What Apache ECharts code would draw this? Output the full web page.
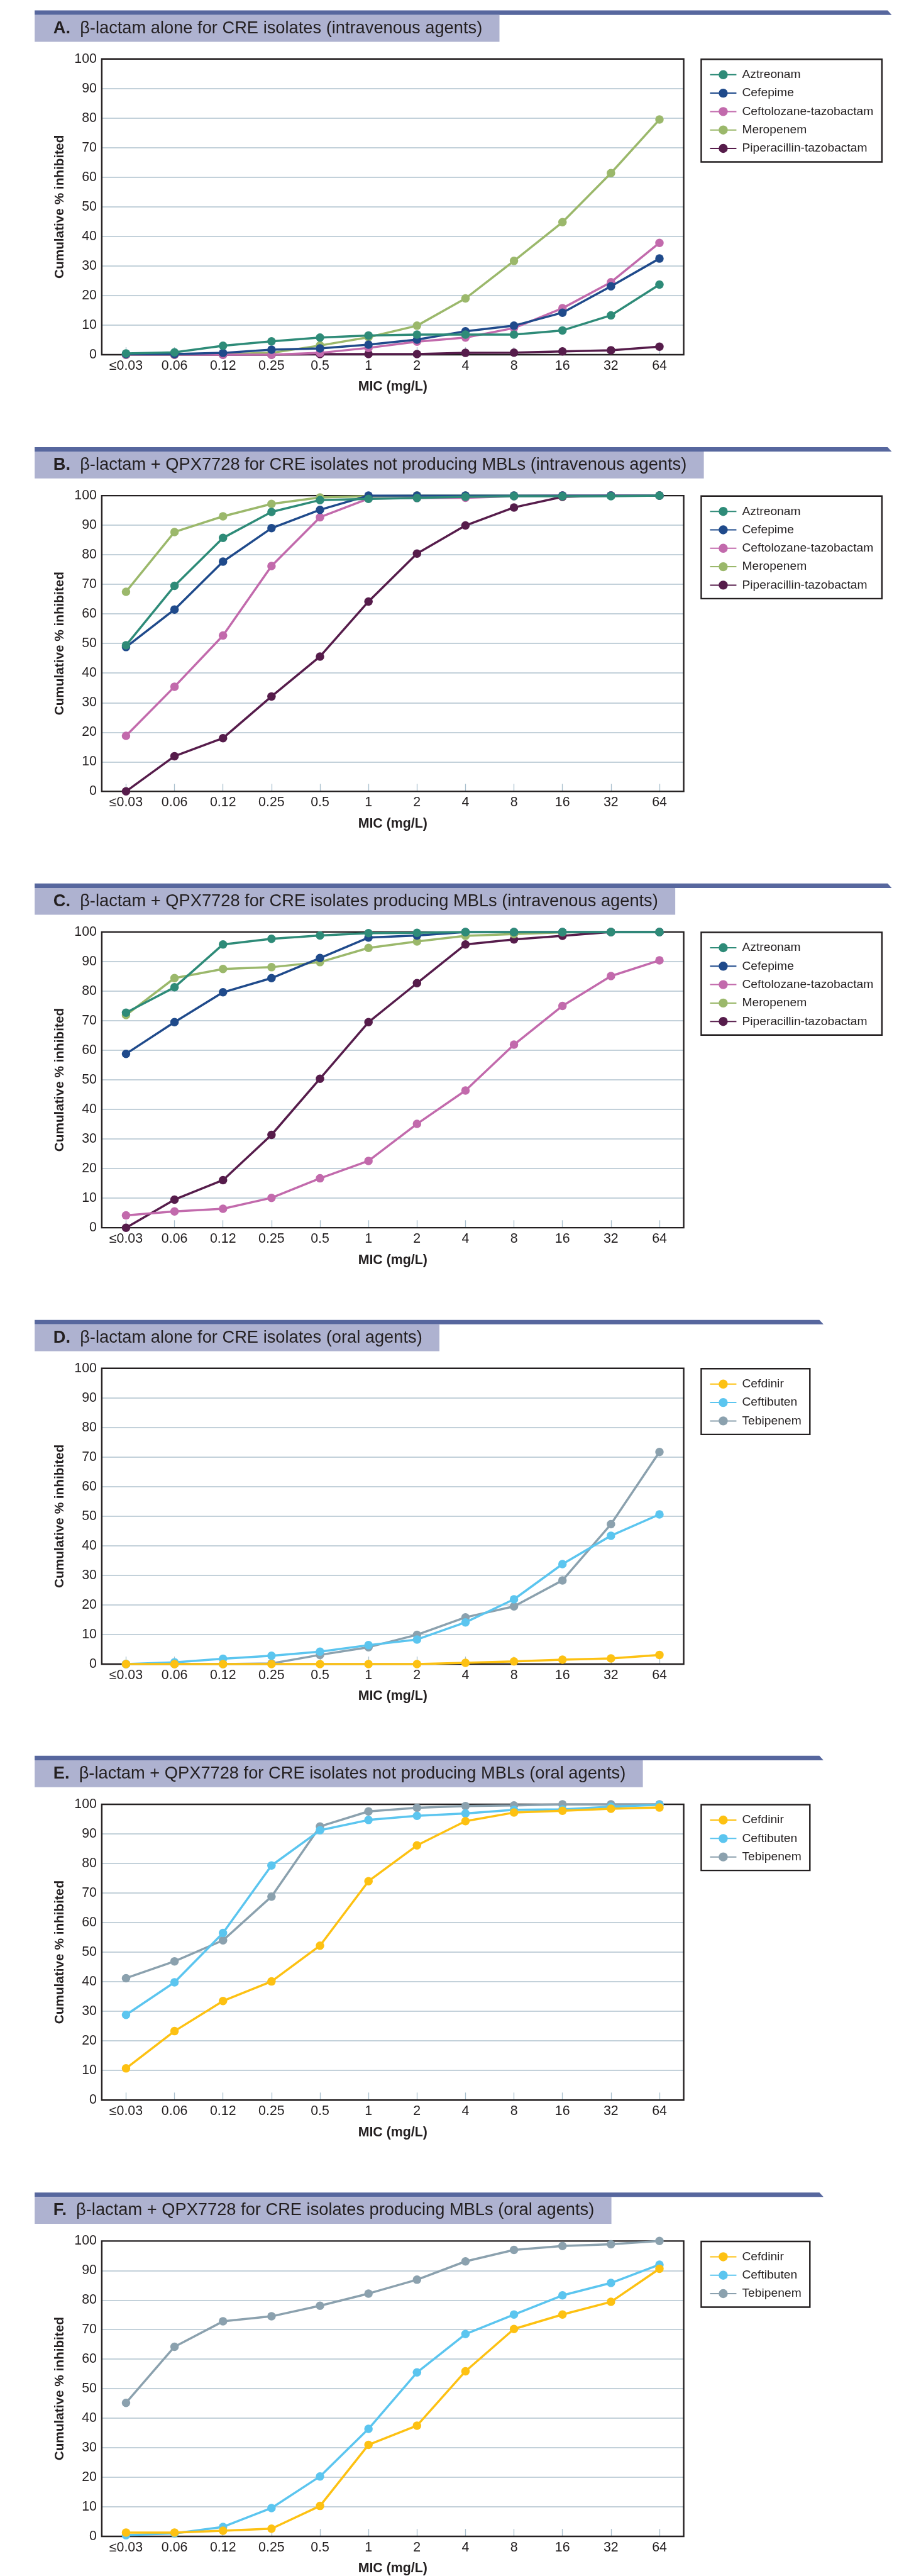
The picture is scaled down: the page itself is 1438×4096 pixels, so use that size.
<!DOCTYPE html>
<html>
<head>
<meta charset="utf-8">
<script src="https://cdn.jsdelivr.net/npm/echarts@6/dist/echarts.min.js"></script>
<style>
html,body{margin:0;padding:0;background:#fff;}
#c{width:1438px;height:4096px;}
</style>
</head>
<body>
<div id="c"></div>
<script>
// ---------- data ----------
const categories = ['≤0.03','0.06','0.12','0.25','0.5','1','2','4','8','16','32','64'];

const panelLetters = ['A.','B.','C.','D.','E.','F.'];
const panelTitles = [
  'β-lactam alone for CRE isolates (intravenous agents)',
  'β-lactam + QPX7728 for CRE isolates not producing MBLs (intravenous agents)',
  'β-lactam + QPX7728 for CRE isolates producing MBLs (intravenous agents)',
  'β-lactam alone for CRE isolates (oral agents)',
  'β-lactam + QPX7728 for CRE isolates not producing MBLs (oral agents)',
  'β-lactam + QPX7728 for CRE isolates producing MBLs (oral agents)'
];
const ivAgents = ['Aztreonam','Cefepime','Ceftolozane-tazobactam','Meropenem','Piperacillin-tazobactam'];
const oralAgents = ['Cefdinir','Ceftibuten','Tebipenem'];
const yAxisName = 'Cumulative % inhibited';
const xAxisName = 'MIC (mg/L)';

// Panel A
const A_aztreonam   = [0.4, 0.8, 3.0, 4.5, 5.8, 6.5, 6.8, 6.8, 6.8, 8.2, 13.3, 23.7];
const A_cefepime    = [0.2, 0.2, 0.6, 1.7, 2.1, 3.4, 5.1, 7.9, 9.8, 14.2, 23.1, 32.5];
const A_ceftolozane = [0, 0, 0, 0, 0.6, 2.3, 4.4, 5.8, 9.0, 15.7, 24.5, 37.8];
const A_meropenem   = [0, 0, 0.2, 0.6, 3.1, 5.9, 9.8, 19.0, 31.7, 44.8, 61.4, 79.5];
const A_piptaz      = [0, 0, 0, 0, 0.2, 0.2, 0.2, 0.6, 0.7, 1.1, 1.5, 2.7];
// Panel B
const B_aztreonam   = [49.4, 69.5, 85.7, 94.5, 98.5, 98.9, 99.2, 99.6, 99.8, 99.8, 99.8, 100];
const B_cefepime    = [48.8, 61.5, 77.7, 89.0, 95.2, 100, 100, 100, 100, 100, 100, 100];
const B_ceftolozane = [18.8, 35.4, 52.7, 76.2, 92.7, 99.0, 99.2, 99.3, 99.8, 100, 100, 100];
const B_meropenem   = [67.5, 87.7, 93.0, 97.2, 99.4, 99.8, 100, 100, 100, 100, 100, 100];
const B_piptaz      = [0, 11.9, 18.0, 32.1, 45.6, 64.2, 80.4, 89.9, 96.0, 99.6, 100, 100];
// Panel C
const C_aztreonam   = [72.7, 81.3, 95.8, 97.7, 98.8, 99.6, 99.7, 100, 100, 100, 100, 100];
const C_cefepime    = [58.8, 69.5, 79.6, 84.4, 91.2, 98.1, 98.8, 100, 100, 100, 100, 100];
const C_ceftolozane = [4.2, 5.5, 6.4, 10.1, 16.7, 22.6, 35.1, 46.4, 61.9, 75.0, 85.1, 90.4];
const C_meropenem   = [71.9, 84.4, 87.5, 88.1, 89.8, 94.6, 96.8, 98.7, 99.3, 99.9, 100, 100];
const C_piptaz      = [0, 9.5, 16.1, 31.4, 50.4, 69.5, 82.7, 95.8, 97.5, 98.7, 100, 100];
// Panel D
const D_cefdinir    = [0, 0, 0, 0, 0, 0, 0, 0.4, 0.9, 1.5, 1.9, 3.1];
const D_ceftibuten  = [0, 0.6, 1.8, 2.8, 4.2, 6.4, 8.3, 14.1, 21.9, 33.8, 43.4, 50.6];
const D_tebipenem   = [0, 0, 0, 0.2, 3.1, 5.7, 9.9, 15.8, 19.5, 28.3, 47.3, 71.7];
// Panel E
const E_cefdinir    = [10.7, 23.3, 33.5, 40.1, 52.2, 74.0, 86.1, 94.3, 97.2, 97.8, 98.5, 98.9];
const E_ceftibuten  = [28.8, 39.8, 56.5, 79.3, 91.2, 94.7, 96.1, 96.9, 98.1, 98.3, 99.2, 99.8];
const E_tebipenem   = [41.2, 46.9, 54.0, 68.8, 92.5, 97.6, 98.8, 99.4, 99.6, 100, 100, 100];
// Panel F
const F_cefdinir    = [1.3, 1.3, 1.9, 2.6, 10.3, 31.0, 37.5, 55.9, 70.2, 75.1, 79.4, 90.6];
const F_ceftibuten  = [0.4, 1.0, 3.2, 9.6, 20.3, 36.4, 55.5, 68.5, 75.1, 81.6, 85.8, 92.0];
const F_tebipenem   = [45.2, 64.2, 72.8, 74.5, 78.1, 82.2, 86.9, 93.1, 97.0, 98.3, 98.9, 100];

const panelData = [
  [A_aztreonam, A_cefepime, A_ceftolozane, A_meropenem, A_piptaz],
  [B_aztreonam, B_cefepime, B_ceftolozane, B_meropenem, B_piptaz],
  [C_aztreonam, C_cefepime, C_ceftolozane, C_meropenem, C_piptaz],
  [D_cefdinir, D_ceftibuten, D_tebipenem],
  [E_cefdinir, E_ceftibuten, E_tebipenem],
  [F_cefdinir, F_ceftibuten, F_tebipenem]
];
const panelAgents = [ivAgents, ivAgents, ivAgents, oralAgents, oralAgents, oralAgents];

// ---------- styles ----------
const agentColors = {
  'Aztreonam': '#2e8b78',
  'Cefepime': '#1f4a8b',
  'Ceftolozane-tazobactam': '#c26aac',
  'Meropenem': '#9bb86b',
  'Piperacillin-tazobactam': '#561c4b',
  'Cefdinir': '#fdc112',
  'Ceftibuten': '#5bc5ef',
  'Tebipenem': '#8ba1ae'
};
const S = 0.593;
const SANS = "'Liberation Sans', Arial, sans-serif";
const INK = '#231f20';
const bandTops = [28, 1199, 2369, 3539, 4708, 5879];
const bandRightTop = [2381, 2381, 2381, 2198, 2198, 2198];

const grids = [], xAxes = [], yAxes = [], series = [], legends = [], titles = [], graphics = [];

panelData.forEach((sets, i) => {
  const t = bandTops[i];
  grids.push({
    left: 273 * S, top: (t + 130) * S, width: 1561 * S, height: 793 * S,
    show: true, borderColor: INK, borderWidth: 2.4, backgroundColor: 'transparent', z: 3
  });
  xAxes.push({
    gridIndex: i, type: 'category', data: categories, boundaryGap: true,
    axisLine: { show: false },
    axisTick: { show: true, inside: true, alignWithLabel: true, length: 20 * S,
      lineStyle: { color: '#a9bfcd', width: 1.3 } },
    axisLabel: { fontFamily: SANS, fontSize: 36 * S, color: INK, margin: 7.7 },
    splitLine: { show: false },
    name: xAxisName, nameLocation: 'middle', nameGap: 41,
    nameTextStyle: { fontFamily: SANS, fontWeight: 'bold', fontSize: 36 * S, color: INK }
  });
  yAxes.push({
    gridIndex: i, type: 'value', min: 0, max: 100, interval: 10,
    axisLine: { show: false }, axisTick: { show: false },
    axisLabel: { fontFamily: SANS, fontSize: 36 * S, color: INK, margin: 8 },
    splitLine: { show: true, showMinLine: false, showMaxLine: false,
      lineStyle: { color: '#afc2ce', width: 1.5 } },
    name: yAxisName, nameLocation: 'middle', nameGap: 56.6, nameRotate: 90,
    nameTextStyle: { fontFamily: SANS, fontWeight: 'bold', fontSize: 35 * S, color: INK }
  });
  const agents = panelAgents[i];
  sets.forEach((vals, k) => {
    series.push({
      type: 'line', name: agents[k], xAxisIndex: i, yAxisIndex: i,
      data: vals, color: agentColors[agents[k]],
      symbol: 'circle', symbolSize: 13.5, showSymbol: true,
      lineStyle: { width: 3.5 }, z: 20 - k,
      emphasis: { disabled: true }, animation: false
    });
  });
  legends.push({
    data: agents, orient: 'vertical', left: 1881 * S, top: (t + 131) * S,
    padding: [15, 13.6, 12, 13], itemWidth: 42, itemHeight: 18, itemGap: 10.3,
    borderColor: INK, borderWidth: 2.4, selectedMode: false,
    textStyle: { fontFamily: SANS, fontSize: 32.5 * S, lineHeight: 18, color: INK, padding: [0, 0, 0, 4] }
  });
  titles.push({
    text: '{b|' + panelLetters[i] + '}  ' + panelTitles[i],
    left: 93 * S, top: (t + 12) * S,
    backgroundColor: '#aeb2d0',
    padding: [7.7, 27.3, 7.7, 29.6],
    textStyle: {
      fontFamily: SANS, fontSize: 46 * S, lineHeight: 46 * S, color: INK, fontWeight: 'normal',
      rich: { b: { fontFamily: SANS, fontSize: 46 * S, lineHeight: 46 * S, fontWeight: 'bold', color: INK } }
    }
  });
  graphics.push({
    type: 'polygon', silent: true, z: 1,
    shape: { points: [[93 * S, t * S], [bandRightTop[i] * S, t * S], [(bandRightTop[i] + 11) * S, (t + 12) * S], [93 * S, (t + 12) * S]] },
    style: { fill: '#57679e' }
  });
});

const chart = echarts.init(document.getElementById('c'), null, { renderer: 'canvas' });
chart.setOption({
  animation: false,
  backgroundColor: '#ffffff',
  title: titles,
  grid: grids,
  xAxis: xAxes,
  yAxis: yAxes,
  legend: legends,
  series: series,
  graphic: graphics
});
</script>
</body>
</html>
